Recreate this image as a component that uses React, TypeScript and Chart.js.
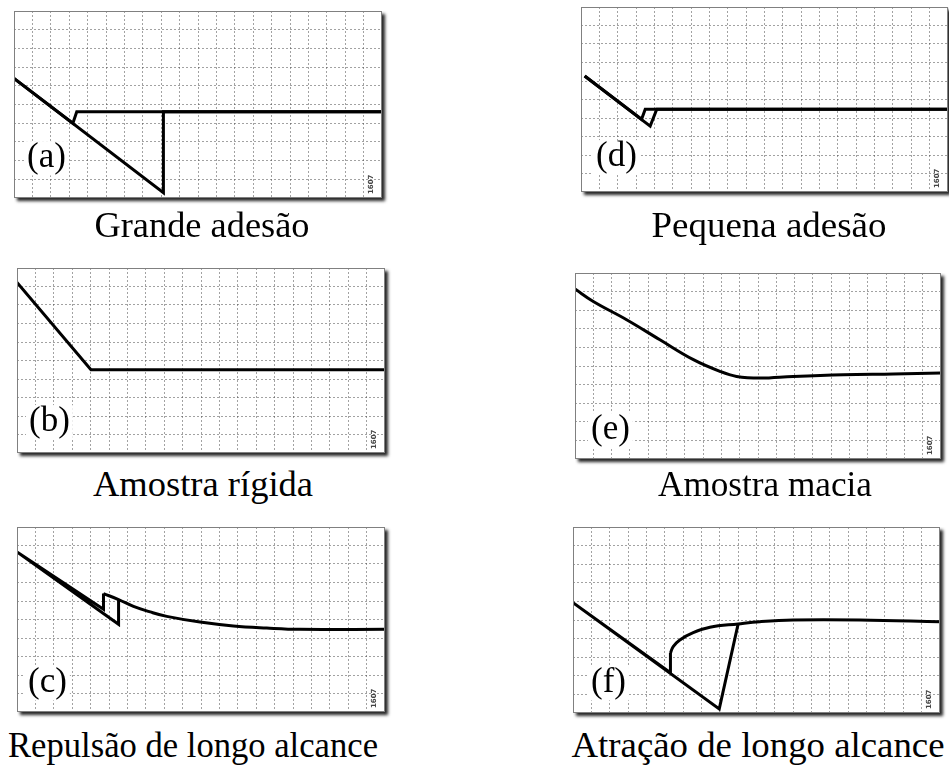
import React, { useEffect, useRef } from "react";
import { Chart, registerables } from "chart.js";

Chart.register(...registerables);

// ---- Force–distance traces, in grid units (x: 20 columns, y: 10 rows) ----

// (a) Grande adesão
const aApproachX = [20, 3.41, 3.2, 0];
const aApproachY = [4.61, 4.61, 4.0, 6.4];
const aRetractX = [0, 8.12, 8.12, 20];
const aRetractY = [6.4, 0.28, 4.61, 4.61];

// (b) Amostra rígida
const bTraceX = [0, 4.02, 20];
const bTraceY = [9.22, 4.5, 4.5];

// (c) Repulsão de longo alcance
const cContactX = [4.7, 4.7, 0, 5.52, 5.52];
const cContactY = [6.4, 5.55, 8.65, 4.74, 6.08];
const cRangeX = [4.7, 5.52, 6.33, 7.24, 8.14, 9.95, 11.76, 13.57, 15.38, 20];
const cRangeY = [6.4, 6.08, 5.71, 5.41, 5.17, 4.86, 4.65, 4.54, 4.47, 4.47];

// (d) Pequena adesão
const dApproachX = [20, 3.5, 3.3, 0.2];
const dApproachY = [4.47, 4.47, 3.93, 6.27];
const dRetractX = [0.2, 3.77, 4.13, 20];
const dRetractY = [6.27, 3.56, 4.47, 4.47];

// (e) Amostra macia
const eTraceX = [0, 1.0, 2.82, 4.64, 6.47, 7.92, 8.83, 10.11, 11.93, 14.66, 17.4, 20];
const eTraceY = [9.14, 8.47, 7.49, 6.41, 5.34, 4.71, 4.44, 4.35, 4.44, 4.53, 4.57, 4.62];

// (f) Atração de longo alcance
const fRangeX = [20, 15.64, 12.0, 10.18, 9.0, 7.46, 6.55, 5.82, 5.46, 5.31];
const fRangeY = [4.91, 5.0, 5.0, 4.91, 4.79, 4.61, 4.32, 3.93, 3.57, 3.22];
const fContactX = [5.31, 5.31, 0, 7.97, 9.0];
const fContactY = [3.22, 2.16, 5.93, 0.22, 4.79];

// Grid extent
const xColumns = 20;
const yRows = 10;

// Panel tags and captions
const panelTags = ["(a)", "(b)", "(c)", "(d)", "(e)", "(f)"];
const captions = [
  "Grande adesão",
  "Amostra rígida",
  "Repulsão de longo alcance",
  "Pequena adesão",
  "Amostra macia",
  "Atração de longo alcance",
];
const stampText = "1607";

// ---- Layout (page pixels) ----
type Series = { xs: number[]; ys: number[]; curved?: boolean };
type PanelLayout = {
  frame: [number, number, number, number]; // left, top, width, height
  tagOffset: [number, number]; // from left edge, baseline above bottom edge
  caption: [number, number, number]; // centre x, baseline y, text width
};

const PAD = 8;
const SERIF = '"Liberation Serif", "Times New Roman", Times, serif';
const TAG_FONT_SIZE = 35;
const CAPTION_FONT_SIZE = 36;
const GRID_COLOR = "rgba(70,70,70,0.5)";

const layouts: PanelLayout[] = [
  { frame: [14, 11, 368, 187], tagOffset: [13, 31], caption: [202, 237, 215] },
  { frame: [17, 268, 368, 185], tagOffset: [12, 22], caption: [203, 496, 220] },
  { frame: [17, 527, 368, 185], tagOffset: [11, 20], caption: [193, 757, 370] },
  { frame: [581, 7, 367, 185], tagOffset: [15, 26], caption: [769, 237, 235] },
  { frame: [575, 273, 366, 186], tagOffset: [16, 20], caption: [765, 496, 214] },
  { frame: [573, 527, 367, 186], tagOffset: [18, 21], caption: [758, 757, 373] },
];

const seriesByPanel: Series[][] = [
  [
    { xs: aApproachX, ys: aApproachY },
    { xs: aRetractX, ys: aRetractY },
  ],
  [{ xs: bTraceX, ys: bTraceY }],
  [
    { xs: cContactX, ys: cContactY },
    { xs: cRangeX, ys: cRangeY, curved: true },
  ],
  [
    { xs: dApproachX, ys: dApproachY },
    { xs: dRetractX, ys: dRetractY },
  ],
  [{ xs: eTraceX, ys: eTraceY, curved: true }],
  [
    { xs: fRangeX, ys: fRangeY, curved: true },
    { xs: fContactX, ys: fContactY },
  ],
];

const zip = (xs: number[], ys: number[]) => xs.map((x, i) => ({ x, y: ys[i] }));

// Background, frame, drop shadow, tag and stamp for one plot panel
function panelDecor(tag: string, tagOffset: [number, number]) {
  return {
    id: "panelDecor",
    beforeDraw(chart: any) {
      const { ctx, chartArea: a } = chart;
      ctx.save();
      ctx.fillStyle = "#ffffff";
      ctx.shadowColor = "rgba(0,0,0,0.85)";
      ctx.shadowBlur = 3;
      ctx.shadowOffsetX = 3;
      ctx.shadowOffsetY = 3;
      ctx.fillRect(a.left, a.top, a.right - a.left, a.bottom - a.top);
      ctx.restore();
    },
    beforeDatasetsDraw(chart: any) {
      const { ctx, chartArea: a } = chart;
      ctx.save();
      ctx.font = `${TAG_FONT_SIZE}px ${SERIF}`;
      const w = ctx.measureText(tag).width;
      const x = a.left + tagOffset[0];
      const y = a.bottom - tagOffset[1];
      ctx.fillStyle = "#ffffff";
      ctx.fillRect(x - 3, y - TAG_FONT_SIZE * 0.74, w + 6, TAG_FONT_SIZE * 0.98);
      ctx.fillStyle = "#000000";
      ctx.textBaseline = "alphabetic";
      ctx.fillText(tag, x, y);
      ctx.restore();

      ctx.save();
      ctx.translate(a.right - 11, a.bottom - 4);
      ctx.rotate(-Math.PI / 2);
      ctx.font = 'bold 7px "DejaVu Sans", sans-serif';
      ctx.fillStyle = "#444444";
      ctx.textBaseline = "middle";
      ctx.fillText(stampText, 0, 0);
      ctx.restore();
    },
    afterDraw(chart: any) {
      const { ctx, chartArea: a } = chart;
      ctx.save();
      ctx.strokeStyle = "#808080";
      ctx.lineWidth = 1;
      ctx.strokeRect(a.left + 0.5, a.top + 0.5, a.right - a.left - 1, a.bottom - a.top - 1);
      ctx.restore();
    },
  };
}

function gridColorFor(max: number) {
  return (c: any) =>
    c.tick && (c.tick.value <= 0 || c.tick.value >= max) ? "rgba(0,0,0,0)" : GRID_COLOR;
}

function axis(max: number) {
  return {
    type: "linear" as const,
    min: 0,
    max,
    ticks: { display: false, stepSize: 1, autoSkip: false, maxTicksLimit: 100 },
    grid: { color: gridColorFor(max), lineWidth: 1, drawTicks: false },
    border: { display: false, dash: [2, 2] },
  };
}

function Panel({ index }: { index: number }) {
  const ref = useRef<HTMLCanvasElement>(null);
  const layout = layouts[index];
  const [left, top, w, h] = layout.frame;

  useEffect(() => {
    if (!ref.current) return;
    const chart = new Chart(ref.current, {
      type: "scatter",
      data: {
        datasets: seriesByPanel[index].map((s) => ({
          data: zip(s.xs, s.ys),
          showLine: true,
          borderColor: "#000000",
          backgroundColor: "#000000",
          borderWidth: 3,
          pointRadius: 0,
          pointHoverRadius: 0,
          tension: s.curved ? 0.4 : 0,
          borderJoinStyle: "miter" as const,
          fill: false,
        })),
      },
      options: {
        responsive: false,
        animation: false,
        events: [],
        layout: { padding: { left: 0, top: 0, right: PAD, bottom: PAD } },
        plugins: {
          legend: { display: false },
          tooltip: { enabled: false },
          title: { display: false },
        },
        scales: {
          x: axis(xColumns),
          y: axis(yRows),
        },
      },
      plugins: [panelDecor(panelTags[index], layout.tagOffset)],
    });
    return () => chart.destroy();
  }, [index]);

  return (
    <canvas
      ref={ref}
      width={w + PAD}
      height={h + PAD}
      style={{ position: "absolute", left, top, width: w + PAD, height: h + PAD }}
    />
  );
}

let measureCtx: CanvasRenderingContext2D | null = null;
function textWidth(text: string, font: string) {
  if (!measureCtx) measureCtx = document.createElement("canvas").getContext("2d");
  if (!measureCtx) return 1;
  measureCtx.font = font;
  return measureCtx.measureText(text).width || 1;
}

function Caption({ index }: { index: number }) {
  const [cx, baseline, targetW] = layouts[index].caption;
  const font = `${CAPTION_FONT_SIZE}px ${SERIF}`;
  const stretch = targetW / textWidth(captions[index], font);
  return (
    <div
      style={{
        position: "absolute",
        left: cx - 300,
        width: 600,
        top: baseline - 30,
        textAlign: "center",
        fontFamily: SERIF,
        fontSize: CAPTION_FONT_SIZE,
        lineHeight: `${CAPTION_FONT_SIZE}px`,
        color: "#000",
        whiteSpace: "nowrap",
        transform: `scaleX(${stretch})`,
      }}
    >
      {captions[index]}
    </div>
  );
}

export default function App() {
  return (
    <div
      style={{
        position: "absolute",
        left: 0,
        top: 0,
        width: 949,
        height: 765,
        overflow: "hidden",
        background: "#ffffff",
      }}
    >
      {layouts.map((_, i) => (
        <Panel key={`p${i}`} index={i} />
      ))}
      {layouts.map((_, i) => (
        <Caption key={`c${i}`} index={i} />
      ))}
    </div>
  );
}
